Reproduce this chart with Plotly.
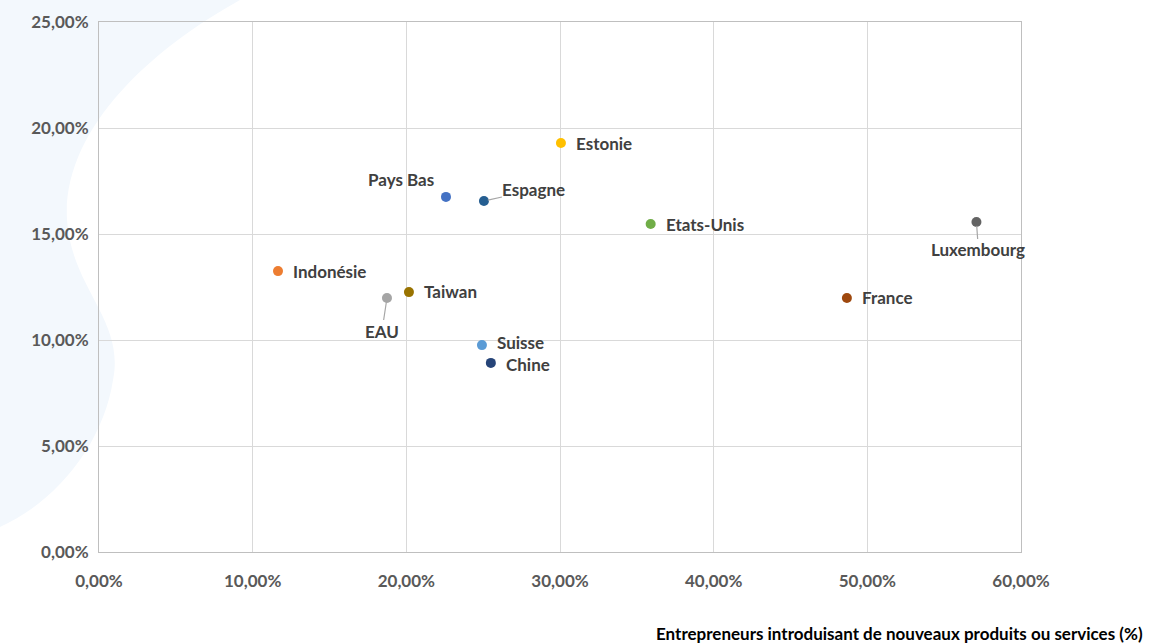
import plotly.graph_objects as go

countries = ["Indonésie", "EAU", "Taiwan", "Pays Bas", "Suisse", "Espagne", "Chine",
             "Estonie", "Etats-Unis", "France", "Luxembourg"]
x_vals = [0.1165, 0.1874, 0.2017, 0.2258, 0.2492, 0.2505, 0.2550,
          0.3006, 0.3590, 0.4867, 0.5710]
y_vals = [0.1325, 0.1198, 0.1226, 0.1675, 0.0976, 0.1656, 0.0892,
          0.1929, 0.1547, 0.1198, 0.1557]
colors = ["#ED7D31", "#A5A5A5", "#997300", "#4472C4", "#5B9BD5", "#255E91", "#264478",
          "#FFC000", "#70AD47", "#9E480E", "#636363"]
# label placement: (mode, xanchor, dx, dy)
label_pos = {
    "Indonésie": ("side", "left", 14, 0),
    "EAU": ("arrow", "center", -5, 33),
    "Taiwan": ("side", "left", 14, -1),
    "Pays Bas": ("side", "right", -11, -17),
    "Suisse": ("side", "left", 14, -3),
    "Espagne": ("arrow", "center", 50, -11),
    "Chine": ("side", "left", 14, 2),
    "Estonie": ("side", "left", 14, 0),
    "Etats-Unis": ("side", "left", 14, 0),
    "France": ("side", "left", 14, -1),
    "Luxembourg": ("arrow", "center", 2, 28),
}
x_ticks = [0, 0.1, 0.2, 0.3, 0.4, 0.5, 0.6]
y_ticks = [0, 0.05, 0.10, 0.15, 0.20, 0.25]
x_title = "Entrepreneurs introduisant de nouveaux produits ou services (%)"

W, H = 1149, 643
ML, MR, MT, MB = 99, 128, 22, 91
PW, PH = W - ML - MR, H - MT - MB
FONT = "Lato, 'Open Sans', sans-serif"


def px2paper(px, py):
    return (px - ML) / PW, (H - MB - py) / PH


def path_from_pixels(cmds):
    out = []
    for c in cmds:
        op, pts = c[0], c[1:]
        coords = []
        for i in range(0, len(pts), 2):
            xp, yp = px2paper(pts[i], pts[i + 1])
            coords.append(f"{xp:.4f},{yp:.4f}")
        out.append(op + " ".join(coords))
    return " ".join(out) + " Z"


fig = go.Figure()
fig.add_trace(go.Scatter(
    x=x_vals, y=y_vals, mode="markers",
    marker=dict(size=10, color=colors, line=dict(width=0)),
    hovertext=countries, hoverinfo="text", showlegend=False,
))

annotations = []
for name, xv, yv in zip(countries, x_vals, y_vals):
    mode, xa, dx, dy = label_pos[name]
    if mode == "side":
        annotations.append(dict(
            x=xv, y=yv, xref="x", yref="y", text=f"<b>{name}</b>", showarrow=False,
            xanchor=xa, yanchor="middle", xshift=dx, yshift=-dy, borderpad=0,
            font=dict(family=FONT, size=17, color="#404040")))
    else:
        annotations.append(dict(
            x=xv, y=yv, xref="x", yref="y", text=f"<b>{name}</b>", showarrow=True,
            ax=dx, ay=dy, arrowhead=0, arrowwidth=1.2, arrowcolor="#A6A6A6",
            standoff=4, xanchor="center", yanchor="middle", borderpad=0,
            font=dict(family=FONT, size=17, color="#404040")))

annotations.append(dict(
    x=(1145 - ML) / PW, y=(H - MB - 633) / PH, xref="paper", yref="paper",
    text=f"<b>{x_title}</b>", showarrow=False, xanchor="right", yanchor="middle",
    font=dict(family=FONT, size=17, color="#000000")))

swoosh = path_from_pixels([
    ("M", 0, 0), ("L", 240, 0),
    ("C", 150, 50, 62, 130, 67, 220),
    ("C", 72, 290, 125, 320, 113, 380),
    ("C", 104, 440, 60, 500, 0, 527),
])

shapes = [dict(type="path", path=swoosh, xref="paper", yref="paper",
               fillcolor="#F3F8FD", line=dict(width=0), layer="below")]

fig.update_layout(
    width=W, height=H,
    margin=dict(l=ML, r=MR, t=MT, b=MB),
    paper_bgcolor="white", plot_bgcolor="rgba(0,0,0,0)",
    separators=", ",
    font=dict(family=FONT, color="#595959"),
    annotations=annotations, shapes=shapes,
)
fig.update_xaxes(
    range=[0, 0.6], tickvals=x_ticks, tickformat=".2%",
    showgrid=True, gridcolor="#D9D9D9", gridwidth=1,
    showline=True, linecolor="#BFBFBF", linewidth=1, mirror=True,
    zeroline=False, ticks="", ticklabelstandoff=14,
    tickfont=dict(family=FONT, size=17, color="#595959", weight="bold"),
)
fig.update_yaxes(
    range=[0, 0.25], tickvals=y_ticks, tickformat=".2%",
    showgrid=True, gridcolor="#D9D9D9", gridwidth=1,
    showline=True, linecolor="#BFBFBF", linewidth=1, mirror=True,
    zeroline=False, ticks="", ticklabelstandoff=6,
    tickfont=dict(family=FONT, size=17, color="#595959", weight="bold"),
)

fig.write_html("out.html")
